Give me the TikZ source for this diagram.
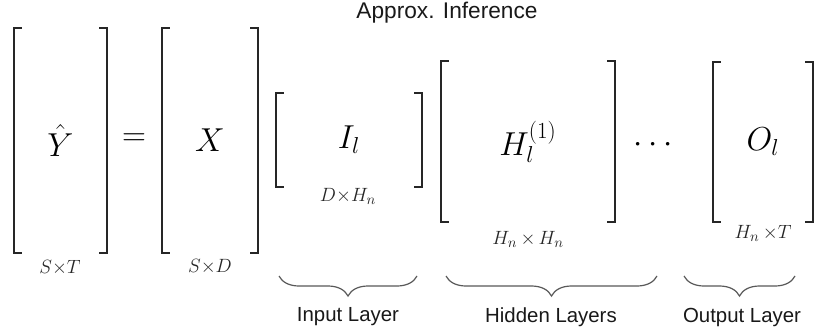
\documentclass[tikz,border=0pt]{standalone}
\usepackage[no-math]{fontspec}
\newfontfamily\labelfont{Liberation Sans}
\usetikzlibrary{decorations.pathreplacing}
\tikzset{
  x=0.75pt, y=-0.75pt,
  bracketline/.style={line width=1.5pt, draw=black!85, line cap=butt},
  matbox/.style={inner sep=0pt, font=\fontsize{23}{26}\selectfont},
  mathtxt/.style={inner sep=0pt, font=\fontsize{23}{26}\selectfont},
  dimtxt/.style={inner sep=0pt, font=\fontsize{15}{17}\selectfont, text=black!85},
  titletxt/.style={inner sep=0pt, font=\labelfont\fontsize{17}{20}\selectfont, text=black!90},
  layertxt/.style={inner sep=0pt, font=\labelfont\fontsize{15.3}{18}\selectfont, text=black!90},
  layerbrace/.style={decorate, decoration={brace, mirror, amplitude=15pt}, draw=black!65, line width=0.9pt},
}
\newcommand\brk[1]{%
  \draw[bracketline] ([xshift=6pt]#1.north west) -| (#1.south west) -- ([xshift=6pt]#1.south west);
  \draw[bracketline] ([xshift=-6pt]#1.north east) -| (#1.south east) -- ([xshift=-6pt]#1.south east);
}
\begin{document}
\begin{tikzpicture}
\useasboundingbox[fill=white] (0,0) rectangle (830,335);
\node[titletxt] (title) at (447,13) {Approx. Inference};
% matrices
\node[matbox, minimum width=69.75pt, minimum height=168.75pt] (Y) at (60.5,140.5) {$\hat{Y}$};
\node[mathtxt] (eq) at (134,140) {$=$};
\node[matbox, minimum width=72pt, minimum height=168.75pt] (X) at (210,140.5) {$X$};
\node[matbox, minimum width=109.5pt, minimum height=70.5pt] (I) at (349,140) {$I_l$};
\node[matbox, minimum width=130.5pt, minimum height=120.75pt] (H) at (528,141.5) {$H_l^{(1)}$};
\node[mathtxt] (dots) at (653,145) {$\cdots$};
\node[matbox, minimum width=75pt, minimum height=120pt] (O) at (763,142) {$O_l$};
\brk{Y}
\brk{X}
\brk{I}
\brk{H}
\brk{O}
% dimension labels
\node[dimtxt] (dY) at (60,268) {$S{\times}T$};
\node[dimtxt] (dX) at (210,267) {$S{\times}D$};
\node[dimtxt] (dI) at (348,196) {$D{\times}H_n$};
\node[dimtxt] (dH) at (528,239) {$H_n{\,\times\,}H_n$};
\node[dimtxt] (dO) at (763,233) {$H_n{\,\times}T$};
% braces
\coordinate (b1l) at (279,276);
\coordinate (b1r) at (417,276);
\coordinate (b2l) at (446,276);
\coordinate (b2r) at (657,276);
\coordinate (b3l) at (684,276);
\coordinate (b3r) at (795,276);
\draw[layerbrace] (b1l) -- (b1r);
\draw[layerbrace] (b2l) -- (b2r);
\draw[layerbrace] (b3l) -- (b3r);
\node[layertxt] (lin) at (348,317) {Input Layer};
\node[layertxt] (lhid) at (551,317) {Hidden Layers};
\node[layertxt] (lout) at (742,317) {Output Layer};
\end{tikzpicture}
\end{document}
